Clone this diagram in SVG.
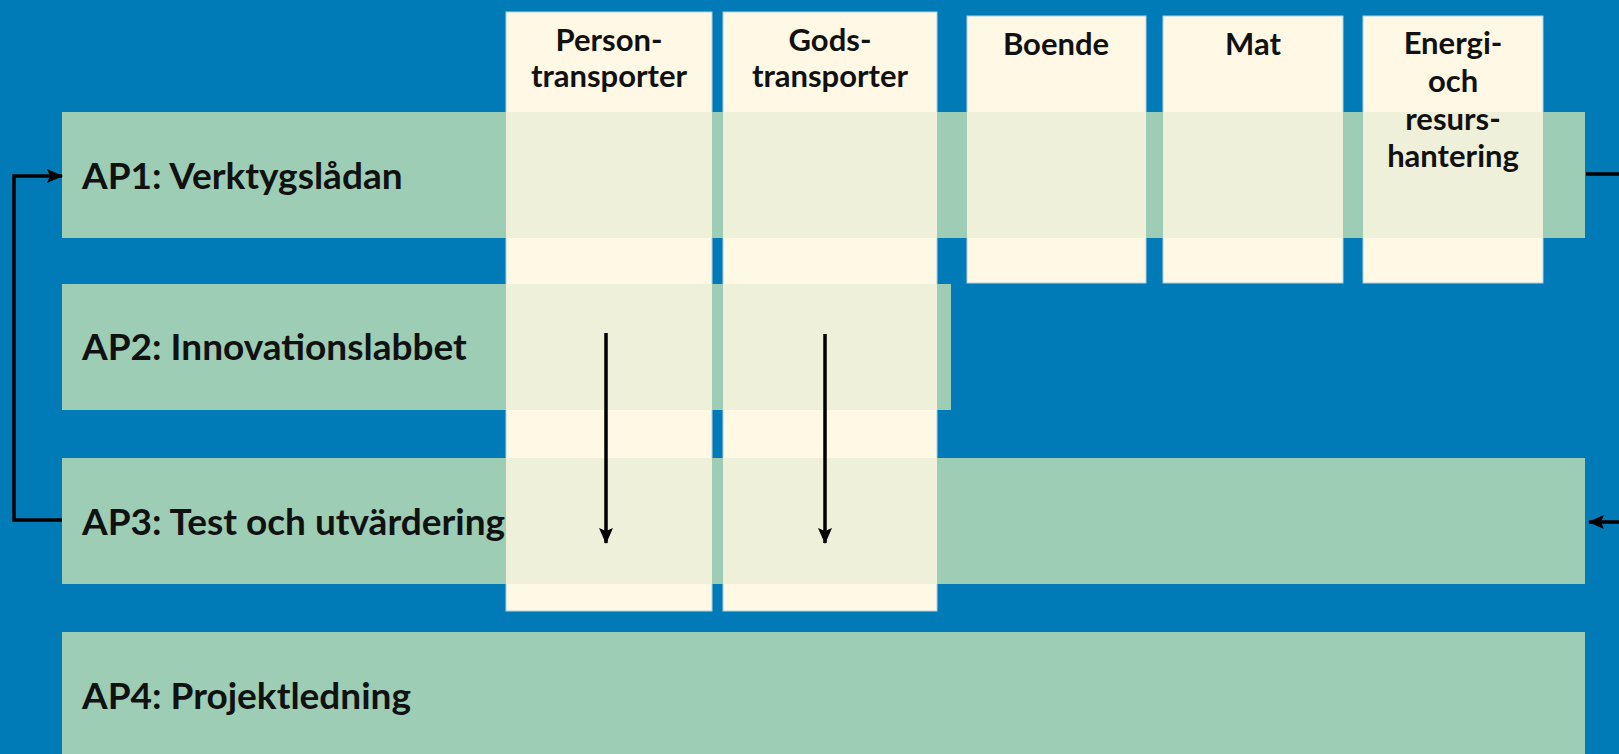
<svg xmlns="http://www.w3.org/2000/svg" width="1619" height="754" viewBox="0 0 1619 754">
<style>
.bg{fill:#007BB8}
.bar{fill:#9DCDB5}
.col{fill:#FFF8E4;stroke:#A9D3E3;stroke-width:1}
.ov{fill:#EFF0D9}
.lbl{font-family:Lato,"Liberation Sans",sans-serif;font-weight:bold;font-size:37px;fill:#111}
.hd{font-family:Lato,"Liberation Sans",sans-serif;font-weight:bold;font-size:31px;fill:#111;text-anchor:middle}
.con{fill:none;stroke:#000;stroke-width:3.5}
</style>
<defs>
<marker id="ah" markerUnits="userSpaceOnUse" markerWidth="16" markerHeight="16" viewBox="0 0 16 16" refX="15" refY="8" orient="auto">
<path d="M0,1 L16,8 L0,15 L3,8 Z" fill="#000"/>
</marker>
<clipPath id="barsClip">
<rect x="62" y="112" width="1523" height="126"/>
<rect x="62" y="284" width="889" height="126"/>
<rect x="62" y="458" width="1523" height="126"/>
<rect x="62" y="632" width="1523" height="126"/>
</clipPath>
</defs>
<rect class="bg" x="0" y="0" width="1619" height="754"/>
<g id="columns">
<g id="col-person"><rect class="col" x="506" y="12" width="206" height="599"/></g>
<g id="col-gods"><rect class="col" x="723" y="12" width="214" height="599"/></g>
<g id="col-boende"><rect class="col" x="967" y="16" width="179" height="267"/></g>
<g id="col-mat"><rect class="col" x="1163" y="16" width="180" height="267"/></g>
<g id="col-energi"><rect class="col" x="1363" y="16" width="180" height="267"/></g>
</g>
<g id="bars">
<g id="ap1"><rect class="bar" x="62" y="112" width="1523" height="126"/><text class="lbl" x="82" y="189">AP1: Verktygslådan</text></g>
<g id="ap2"><rect class="bar" x="62" y="284" width="889" height="126"/><text class="lbl" x="82" y="360">AP2: Innovationslabbet</text></g>
<g id="ap3"><rect class="bar" x="62" y="458" width="1523" height="126"/><text class="lbl" x="82" y="535">AP3: Test och utvärdering</text></g>
<g id="ap4"><rect class="bar" x="62" y="632" width="1523" height="126"/><text class="lbl" x="82" y="709">AP4: Projektledning</text></g>
</g>
<g id="overlaps" clip-path="url(#barsClip)">
<rect class="ov" x="506" y="12" width="206" height="599"/>
<rect class="ov" x="723" y="12" width="214" height="599"/>
<rect class="ov" x="967" y="16" width="179" height="267"/>
<rect class="ov" x="1163" y="16" width="180" height="267"/>
<rect class="ov" x="1363" y="16" width="180" height="267"/>
</g>
<g id="headers">
<text class="hd" x="609" y="51">Person-<tspan x="609" y="87">transporter</tspan></text>
<text class="hd" x="830" y="51">Gods-<tspan x="830" y="87">transporter</tspan></text>
<text class="hd" x="1056" y="55">Boende</text>
<text class="hd" x="1253" y="55">Mat</text>
<text class="hd" x="1453" y="54">Energi-<tspan x="1453" y="92">och</tspan><tspan x="1453" y="130">resurs-</tspan><tspan x="1453" y="167">hantering</tspan></text>
</g>
<g id="connectors">
<path class="con" d="M62,520 H14 V176 H62" marker-end="url(#ah)"/>
<path class="con" d="M1586,174 H1640 V522 H1589" marker-end="url(#ah)"/>
<path class="con" d="M606,333 V543" marker-end="url(#ah)"/>
<path class="con" d="M825,334 V543" marker-end="url(#ah)"/>
</g>
</svg>
